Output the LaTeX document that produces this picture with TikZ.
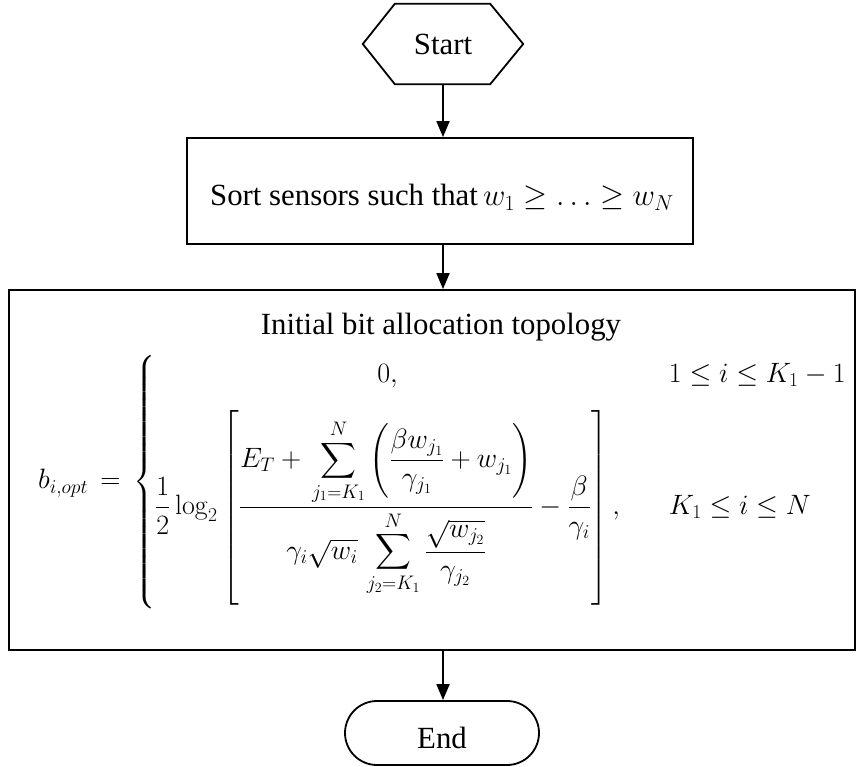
\RequirePackage{fix-cm}
\documentclass[tikz,border=0pt]{standalone}
\usepackage{amsmath}
\usepackage[no-math]{fontspec}
\setmainfont{Liberation Serif}
\usetikzlibrary{shapes.misc,arrows.meta}

\tikzset{
  every node/.style={font=\fontsize{30.8}{37}\selectfont, inner sep=0pt},
  mathtext/.style={font=\fontsize{28}{33.6}\selectfont},
  line/.style={line width=1.8pt},
  flow/.style={line width=1.8pt, -{Triangle[width=13pt,length=16pt]}},
  procbox/.style={draw, line width=1.8pt, rectangle},
  termbox/.style={draw, line width=1.8pt, rounded rectangle},
}

\begin{document}
\begin{tikzpicture}[x=1pt,y=-1pt]
\useasboundingbox (0,0) rectangle (863,767);

% start terminal (hexagon)
\node[minimum width=160pt, minimum height=80pt] (start) at (443,44) {};
\node[anchor=base] (starttext) at (443,55) {Start};
\draw[line] (start.west) -- ([xshift=32pt]start.north west) -- ([xshift=-33pt]start.north east)
  -- (start.east) -- ([xshift=-33pt]start.south east) -- ([xshift=32pt]start.south west) -- cycle;

% sorting step
\node[procbox, minimum width=506pt, minimum height=106pt] (sort) at (440,191) {};
\node[anchor=base] (sorttext) at (442,206) {Sort sensors such that\,$w_1 \ge \ldots \ge w_N$};

% allocation step
\node[procbox, minimum width=846pt, minimum height=360pt] (alloc) at (432,470) {};
\node[anchor=base] (title) at (441,335) {Initial bit allocation topology};
\node[mathtext, anchor=base west] (formula) at (38,489) {$\displaystyle
  b_{i,opt}\,=\,\left\{\begin{array}{@{}c@{\hspace{49pt}}l@{}}
  0, & 1 \le i \le K_1 - 1\\[18pt]
  \dfrac{1}{2}\log_2\left[\rule[-88pt]{0pt}{189pt}\dfrac{E_T +\,\displaystyle\sum_{j_1=K_1}^{N}\left(\dfrac{\beta w_{j_1}}{\gamma_{j_1}} + w_{j_1}\right)}
  {\gamma_i\sqrt{w_i}\,\displaystyle\sum_{j_2=K_1}^{N}\dfrac{\sqrt{w_{j_2}}}{\gamma_{j_2}}} - \dfrac{\beta}{\gamma_i}\right], & K_1 \le i \le N
  \end{array}\right.$};

% end terminal
\node[termbox, minimum width=194pt, minimum height=64pt] (end) at (442,733) {};
\node[anchor=base] (endtext) at (442,748) {End};

% connectors
\draw[flow] (start.south) -- (start.south |- sort.north);
\draw[flow] (start.south |- sort.south) -- (start.south |- alloc.north);
\draw[flow] (start.south |- alloc.south) -- (start.south |- end.north);
\end{tikzpicture}
\end{document}
